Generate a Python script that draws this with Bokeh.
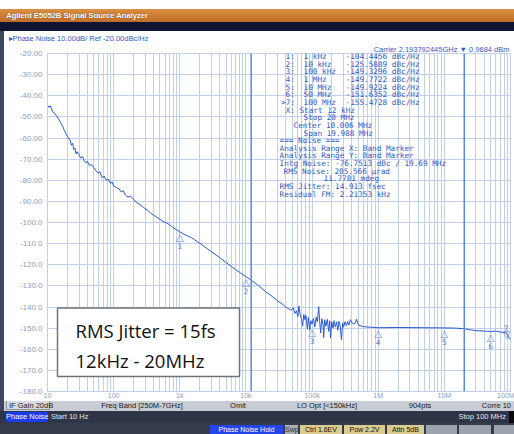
from bokeh.plotting import figure
from bokeh.models import FixedTicker, Span, Label, BoxAnnotation, Div, ColumnDataSource, Title
from bokeh.layouts import column, row
from bokeh.embed import file_html
from bokeh.resources import INLINE
from bokeh.core.properties import value

# ---------------- data ----------------
freq_hz = [
    10, 10.5, 11, 12, 13, 14, 15, 16, 17, 18, 19, 20, 21, 22, 23, 24, 25, 26, 27, 28,
    30, 32, 34, 36, 38, 40, 43, 46, 50, 54, 58, 62, 67, 72, 77, 83, 90, 95,
    100, 110, 120, 130, 140, 150, 165, 180, 200, 220, 250, 280, 320, 360, 400, 450,
    500, 560, 630, 700, 800, 900,
    1000, 1200, 1500, 2000, 2500, 3000, 4000, 5000, 6000, 7000, 8000, 9000,
    10000, 12000, 15000, 20000, 25000, 30000, 35000, 40000, 45000,
    48000, 52000, 55000, 58000, 61000, 63000, 66000, 69000, 72000, 75000, 78000,
    81000, 85000, 88000, 92000, 96000,
    100000, 105000, 110000, 115000, 120000, 126000, 130000, 135000, 140000, 147000,
    150000, 155000, 162000, 170000, 178000, 185000, 190000, 198000, 207000, 215000,
    225000, 235000, 245000, 255000, 265000, 278000, 290000, 300000, 315000, 330000,
    345000, 360000, 380000, 400000, 420000, 450000, 470000, 500000, 550000, 600000,
    700000,
    1e6, 2e6, 5e6, 1e7, 1.5e7, 2e7, 2.5e7, 3e7, 4e7, 5e7,
    6e7, 7e7, 8e7, 8.5e7, 9e7, 9.5e7, 1e8,
]
pn_dbc = [
    -44.4, -45.5, -44.8, -47.6, -48.5, -50.0, -51.5, -53.0, -54.5, -56.5, -58.0, -59.3,
    -60.5, -61.0, -63.5, -62.5, -65.5, -64.8, -67.5, -66.5,
    -68.0, -69.5, -68.8, -71.0, -71.8, -71.0, -73.0, -72.5, -74.0, -75.5, -76.5, -76.0,
    -78.8, -78.0, -80.0, -79.5, -81.5, -80.8,
    -82.7, -83.5, -84.0, -85.5, -85.0, -87.0, -88.0, -87.5, -89.0, -90.5,
    -91.5, -92.8, -94.0, -95.5, -96.5, -97.5, -98.5, -99.5, -100.2, -101.0,
    -102.5, -103.5,
    -104.4, -105.8, -107.2, -109.8, -112.0, -113.8, -116.6, -118.9, -120.8, -122.3,
    -123.6, -124.7,
    -125.6, -127.3, -129.5, -132.8, -135.0, -137.0, -138.5, -140.0, -141.0,
    -141.5, -140.5, -143.0, -141.8, -144.5, -139.5, -143.5, -145.5, -149.0, -143.5,
    -146.0, -144.0, -150.5, -145.0, -151.0, -146.5,
    -148.0, -145.5, -149.5, -144.8, -147.0, -139.8, -146.5, -152.3, -145.5, -148.5,
    -154.5, -146.0, -149.0, -145.8, -151.5, -146.5, -154.7, -147.0, -150.0, -146.5,
    -149.5, -147.0, -151.0, -146.8, -148.5, -155.5, -147.5, -149.5, -147.0, -148.8,
    -146.8, -148.5, -146.0, -147.5, -148.0, -147.5, -145.8, -148.5, -149.0, -149.3,
    -149.5,
    -149.8, -149.7, -149.8, -149.9, -150.0, -150.3, -150.8, -151.2, -151.4, -151.6,
    -151.4, -151.8, -152.2, -152.0, -153.2, -154.6, -155.5,
]

marker_ids = ["1", "2", "3", "4", "5", "6", "7"]
marker_freq_hz = [1e3, 1e4, 1e5, 1e6, 1e7, 5e7, 1e8]
marker_freq_text = ["1 kHz", "10 kHz", "100 kHz", "1 MHz", "10 MHz", "50 MHz", "100 MHz"]
marker_dbc = [-104.4456, -125.5889, -149.3296, -149.7722, -149.9224, -151.6352, -155.4728]

band_start_hz = 12e3
band_stop_hz = 20e6

info_lines = [
    "X: Start 12 kHz", "Stop 20 MHz", "Center 10.006 MHz", "Span 19.988 MHz",
    "=== Noise ===", "Analysis Range X: Band Marker", "Analysis Range Y: Band Marker",
    "Intg Noise: -76.7513 dBc / 19.69 MHz", "RMS Noise: 205.566 \u00b5rad", "11.7781 mdeg",
    "RMS Jitter: 14.913 fsec", "Residual FM: 2.21353 kHz",
]

y_ticks = list(range(-180, -19, 10))
y_tick_text = [("%.2f" % t) if t > -100 else ("%.1f" % t) for t in y_ticks]
x_ticks = [10, 100, 1000, 10000, 100000, 1000000, 10000000, 100000000]
x_tick_text = ["10", "100", "1k", "10k", "100k", "1M", "10M", "100M"]

header_title = "Agilent E5052B Signal Source Analyzer"
trace_title = "\u25b8Phase Noise 10.00dB/ Ref -20.00dBc/Hz"
carrier_text = "Carrier 2.193792445GHz \u25bc 0.9684 dBm"
note_lines = ["RMS Jitter = 15fs", "12kHz - 20MHz"]

# ---------------- layout helpers (reference pixel -> data) ----------------
FL, FR, FT, FB = 47.0, 510.0, 53.0, 393.0


def fx(px):
    return 10 ** (1 + 7 * (px - FL) / (FR - FL))


def fy(py):
    return -20 - 160 * (py - FT) / (FB - FT)


BLUE_TXT = "#3159c6"
GRID = "#c0cfea"
TRACE = "#2a5ad6"
AXIS_TXT = "#8d9cbc"

p = figure(width=510, height=370, x_axis_type="log", x_range=(10, 1e8), y_range=(-180, -20),
           output_backend="svg", toolbar_location=None,
           min_border_left=43, min_border_right=4, min_border_top=22, min_border_bottom=8)
p.background_fill_color = "white"
p.border_fill_color = "white"
p.outline_line_color = GRID

# texts above the frame (titles)
p.title.text = trace_title
p.title.align = "left"
p.title.offset = -39
p.title.standoff = 0
p.title.text_font = "Liberation Sans"
p.title.text_font_size = "7.5px"
p.title.text_font_style = "normal"
p.title.text_color = BLUE_TXT
p.add_layout(Title(text=carrier_text, align="right", offset=1, standoff=0,
                   text_font="Liberation Sans", text_font_size="7.5px",
                   text_font_style="normal", text_color=BLUE_TXT), "above")

minor = [k * 10 ** n for n in range(1, 8) for k in range(2, 10)]
xt = FixedTicker(ticks=x_ticks, minor_ticks=minor)
p.xaxis.ticker = xt
p.xgrid.ticker = xt
p.xaxis.major_label_overrides = dict(zip(x_ticks, x_tick_text))
yt = FixedTicker(ticks=y_ticks)
p.yaxis.ticker = yt
p.ygrid.ticker = yt
p.yaxis.major_label_overrides = dict(zip(y_ticks, y_tick_text))

for ax in (p.xaxis, p.yaxis):
    ax.axis_line_color = GRID
    ax.major_tick_line_color = None
    ax.minor_tick_line_color = None
    ax.major_tick_out = 0
    ax.major_tick_in = 0
    ax.minor_tick_out = 0
    ax.minor_tick_in = 0
    ax.major_label_text_color = AXIS_TXT
    ax.major_label_text_font = "Liberation Sans"
p.yaxis.major_label_text_font_size = "8px"
p.xaxis.major_label_text_font_size = "7px"
p.yaxis.major_label_standoff = 5
p.xaxis.major_label_standoff = 0

p.xgrid.grid_line_color = GRID
p.xgrid.minor_grid_line_color = GRID
p.ygrid.grid_line_color = GRID

# trace
p.line(freq_hz, pn_dbc, line_color=TRACE, line_width=1)

# band marker lines
for f in (band_start_hz, band_stop_hz):
    p.add_layout(Span(location=f, dimension="height", line_color="#5788dc", line_width=1.5))

# markers 1..6
p.text(x=marker_freq_hz[:6], y=marker_dbc[:6], text=["\u25b3"] * 6, text_align="center",
       text_baseline="top", text_font=value("DejaVu Sans"), text_font_size="10px",
       text_color="#6b8bd0")
p.text(x=marker_freq_hz[:6], y=marker_dbc[:6], text=marker_ids[:6], text_align="center",
       text_baseline="top", y_offset=11, text_font=value("DejaVu Sans"), text_font_size="7.5px",
       text_color="#5a7cc4")
# active marker 7
p.text(x=marker_freq_hz[6:], y=marker_dbc[6:], text=["\u25bd"], text_align="right",
       text_baseline="bottom", text_font=value("DejaVu Sans"), text_font_size="10px",
       text_color="#5a7cc4")
p.text(x=marker_freq_hz[6:], y=marker_dbc[6:], text=marker_ids[6:], text_align="right",
       text_baseline="bottom", y_offset=-9, x_offset=-2, text_font=value("DejaVu Sans"),
       text_font_size="7.5px", text_color="#5a7cc4")

# marker table
row_y = [56 + 7.7 * i for i in range(19)]
tx, ty, tt = [], [], []
for i in range(7):
    if i < 6:
        tx.append(fx(285)); tt.append(marker_ids[i] + ":")
    else:
        tx.append(fx(280.5)); tt.append(">" + marker_ids[i] + ":")
    ty.append(fy(row_y[i]))
    tx.append(fx(303)); ty.append(fy(row_y[i])); tt.append(marker_freq_text[i])
    tx.append(fx(345)); ty.append(fy(row_y[i])); tt.append("%.4f dBc/Hz" % marker_dbc[i])
info_x = [285, 303, 293, 303, 279, 279, 279, 279, 283, 323, 279, 279]
for j, line in enumerate(info_lines):
    tx.append(fx(info_x[j])); ty.append(fy(row_y[7 + j])); tt.append(line)
src = ColumnDataSource(dict(x=tx, y=ty, text=tt))
p.text(x="x", y="y", text="text", source=src, text_font=value("DejaVu Sans Mono"),
       text_font_size="7.7px", text_color=BLUE_TXT, text_baseline="middle", text_align="left")

# note box
p.add_layout(BoxAnnotation(left=fx(57), right=fx(239), top=fy(309), bottom=fy(378),
                           fill_color="white", fill_alpha=1.0, line_color="#6e747c",
                           line_alpha=1.0, line_width=1.5))
for k, line in enumerate(note_lines):
    p.add_layout(Label(x=fx(75), y=fy(332 + 30 * k), text=line, text_font="Open Sans",
                       text_font_size="18.5px", text_color="#111111", text_baseline="middle"))

# ---------------- instrument chrome ----------------
header_html = (
    '<div style="position:relative;width:514px;height:31px;overflow:hidden;background:#ffffff;">'
    '<div style="position:absolute;left:0;top:9px;width:514px;height:13px;'
    'background:linear-gradient(#da8f42,#bf6d28);"></div>'
    '<div style="position:absolute;left:6px;top:10px;font:bold 8px \'Liberation Sans\';'
    'color:#ffffff;text-shadow:0 0 1px #4a2608;letter-spacing:-0.2px;line-height:11px;'
    'white-space:nowrap;">' + header_title + '</div>'
    '<div style="position:absolute;left:0;top:22px;width:514px;height:9px;background:#0e1533;"></div>'
    '</div>'
)


def cell(center, text, color="#1a1a1a", top=0):
    return ('<div style="position:absolute;left:%dpx;top:%dpx;width:120px;text-align:center;'
            'color:%s;">%s</div>' % (center - 60, top, color, text))


def button(left, width, text, bg, color):
    return ('<div style="position:absolute;left:%dpx;top:24px;width:%dpx;height:9px;'
            'background:%s;color:%s;text-align:center;font-size:7px;line-height:9px;'
            'overflow:hidden;">%s</div>' % (left, width, bg, color, text))


footer_html = (
    '<div style="position:relative;width:514px;height:33px;overflow:hidden;'
    'font-family:\'Liberation Sans\';font-size:7.5px;line-height:10px;white-space:nowrap;'
    'background:#343b4c;">'
    '<div style="position:absolute;left:0;top:0;width:514px;height:10px;background:#c8cdd5;"></div>'
    '<div style="position:absolute;left:0;top:0;width:4px;height:10px;background:#3d4760;"></div>'
    '<div style="position:absolute;left:6px;top:0;width:44px;height:9px;background:#d6dae0;'
    'border:1px solid #8e96a2;border-top:0;color:#1a1a1a;padding-left:2px;line-height:9px;">'
    'IF Gain 20dB</div>'
    + cell(142, "Freq Band [250M-7GHz]") + cell(238, "Omit") + cell(327, "LO Opt [&lt;150kHz]")
    + cell(420, "904pts")
    + '<div style="position:absolute;right:3px;top:0;color:#1a1a1a;">Corre 10</div>'
    '<div style="position:absolute;left:0;top:10px;width:514px;height:12px;background:#2e3546;"></div>'
    '<div style="position:absolute;left:6px;top:11px;width:42px;height:10px;background:#1b3df2;'
    'color:#ffffff;line-height:10px;text-align:center;">Phase Noise</div>'
    '<div style="position:absolute;left:51px;top:11px;color:#e2e6ee;">Start 10 Hz</div>'
    '<div style="position:absolute;right:8px;top:11px;color:#e2e6ee;">Stop 100 MHz</div>'
    '<div style="position:absolute;right:0;top:10px;width:5px;height:12px;background:#0a0a0a;"></div>'
    + button(210, 73, "Phase Noise Hold", "#2446e8", "#ffffff")
    + button(285, 13, "Swp", "#a8acb4", "#333333")
    + button(300, 42, "Ctrl 1.6EV", "#dccb8e", "#111111")
    + button(344, 41, "Pow 2.2V", "#dccb8e", "#111111")
    + button(387, 37, "Attn 5dB", "#dccb8e", "#111111")
    + button(426, 31, "", "#9ea4ae", "#111111")
    + button(459, 32, "", "#9ea4ae", "#111111")
    + button(494, 20, "", "#9ea4ae", "#111111")
    + '</div>'
)

header = Div(text=header_html, width=514, height=31, margin=0)
strip = Div(text='<div style="width:4px;height:370px;background:#3d4760;"></div>',
            width=4, height=370, margin=0)
footer = Div(text=footer_html, width=514, height=33, margin=0)

layout = column(header, row(strip, p, spacing=0), footer, spacing=0)
open("out.html", "w").write(file_html(layout, INLINE))
